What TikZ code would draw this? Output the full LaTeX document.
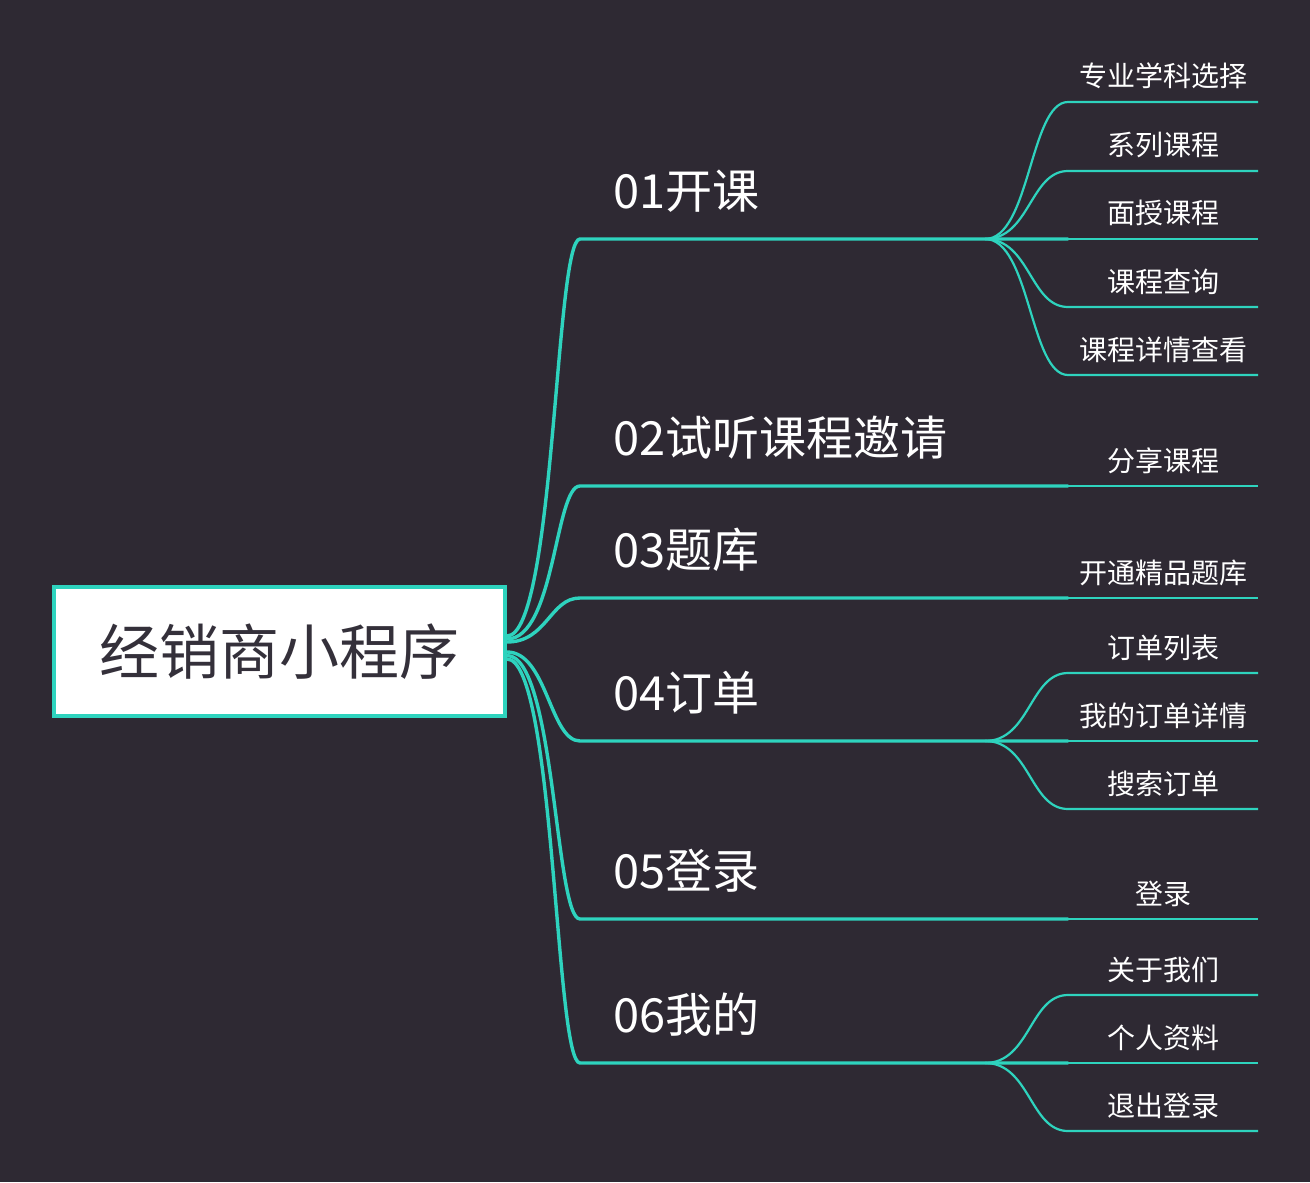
\documentclass[tikz,border=0pt]{standalone}
\usepackage{fontspec}
\setmainfont{Noto Sans CJK SC}
\usetikzlibrary{positioning,calc}
\definecolor{bgdark}{HTML}{2E2933}
\definecolor{mintline}{HTML}{2ED3BE}
\definecolor{roottext}{HTML}{34303A}

\begin{document}
\begin{tikzpicture}[
  x=0.5pt,y=-0.5pt,
  rootnode/.style={draw=mintline,line width=2pt,fill=white,text=roottext,font=\fontsize{30}{36}\selectfont,minimum width=225.5pt,minimum height=64.5pt,inner sep=0pt},
  mainlabel/.style={text=white,font=\fontsize{23.5}{28}\selectfont,anchor=base west,inner sep=0pt},
  sublabel/.style={text=white,font=\fontsize{14}{17}\selectfont,anchor=base,inner sep=0pt},
  mainline/.style={draw=mintline,line width=1.7pt,line cap=round},
  subline/.style={draw=mintline,line width=1.1pt}
]
\fill[bgdark] (0,0) rectangle (1310,1182);

\node[rootnode] (root) at (279.5,651.5) {经销商小程序};

% main branches
\coordinate (k1) at (580,239);  \coordinate (e1) at (1068,239);  \coordinate (j1) at (985,239);
\coordinate (k2) at (580,486);  \coordinate (e2) at (1068,486);
\coordinate (k3) at (580,598);  \coordinate (e3) at (1068,598);
\coordinate (k4) at (580,741);  \coordinate (e4) at (1068,741);  \coordinate (j4) at (985,741);
\coordinate (k5) at (580,919);  \coordinate (e5) at (1068,919);
\coordinate (k6) at (580,1063); \coordinate (e6) at (1068,1063); \coordinate (j6) at (985,1063);

\node[mainlabel] (m1) at (613,208)  {01开课};
\node[mainlabel] (m2) at (613,455)  {02试听课程邀请};
\node[mainlabel] (m3) at (613,567)  {03题库};
\node[mainlabel] (m4) at (613,710)  {04订单};
\node[mainlabel] (m5) at (613,888)  {05登录};
\node[mainlabel] (m6) at (613,1032) {06我的};

\draw[mainline] ($(root.east)+(0,-15.5)$) .. controls +(48,0) and +(-25,0) .. (k1) -- (e1);
\draw[mainline] ($(root.east)+(0,-12.5)$) .. controls +(48,0) and +(-25,0) .. (k2) -- (e2);
\draw[mainline] ($(root.east)+(0,-9.5)$)  .. controls +(40,0) and +(-30,0) .. (k3) -- (e3);
\draw[mainline] ($(root.east)+(0,0.5)$)   .. controls +(40,0) and +(-30,0) .. (k4) -- (e4);
\draw[mainline] ($(root.east)+(0,4)$)     .. controls +(48,0) and +(-25,0) .. (k5) -- (e5);
\draw[mainline] ($(root.east)+(0,7.5)$)   .. controls +(48,0) and +(-25,0) .. (k6) -- (e6);

% single leaves
\coordinate (t2) at (1258,486);
\coordinate (t3) at (1258,598);
\coordinate (t5) at (1258,919);
\draw[subline] (e2) -- (t2);
\draw[subline] (e3) -- (t3);
\draw[subline] (e5) -- (t5);
\node[sublabel] (l2) at (1163,471) {分享课程};
\node[sublabel] (l3) at (1163,583) {开通精品题库};
\node[sublabel] (l5) at (1163,904) {登录};

% leaves of 01
\foreach \n/\y/\txt in {a/102/专业学科选择,b/171/系列课程,c/239/面授课程,d/307/课程查询,e/375/课程详情查看}{
  \coordinate (c1\n) at (1068,\y);
  \coordinate (t1\n) at (1258,\y);
  \node[sublabel] (l1\n) at (1163,\y-15) {\txt};
  \draw[subline] (j1) .. controls +(45,0) and +(-38,0) .. (c1\n) -- (t1\n);
}

% leaves of 04
\foreach \n/\y/\txt in {a/673/订单列表,b/741/我的订单详情,c/809/搜索订单}{
  \coordinate (c4\n) at (1068,\y);
  \coordinate (t4\n) at (1258,\y);
  \node[sublabel] (l4\n) at (1163,\y-15) {\txt};
  \draw[subline] (j4) .. controls +(45,0) and +(-38,0) .. (c4\n) -- (t4\n);
}

% leaves of 06
\foreach \n/\y/\txt in {a/995/关于我们,b/1063/个人资料,c/1131/退出登录}{
  \coordinate (c6\n) at (1068,\y);
  \coordinate (t6\n) at (1258,\y);
  \node[sublabel] (l6\n) at (1163,\y-15) {\txt};
  \draw[subline] (j6) .. controls +(45,0) and +(-38,0) .. (c6\n) -- (t6\n);
}
\end{tikzpicture}
\end{document}
